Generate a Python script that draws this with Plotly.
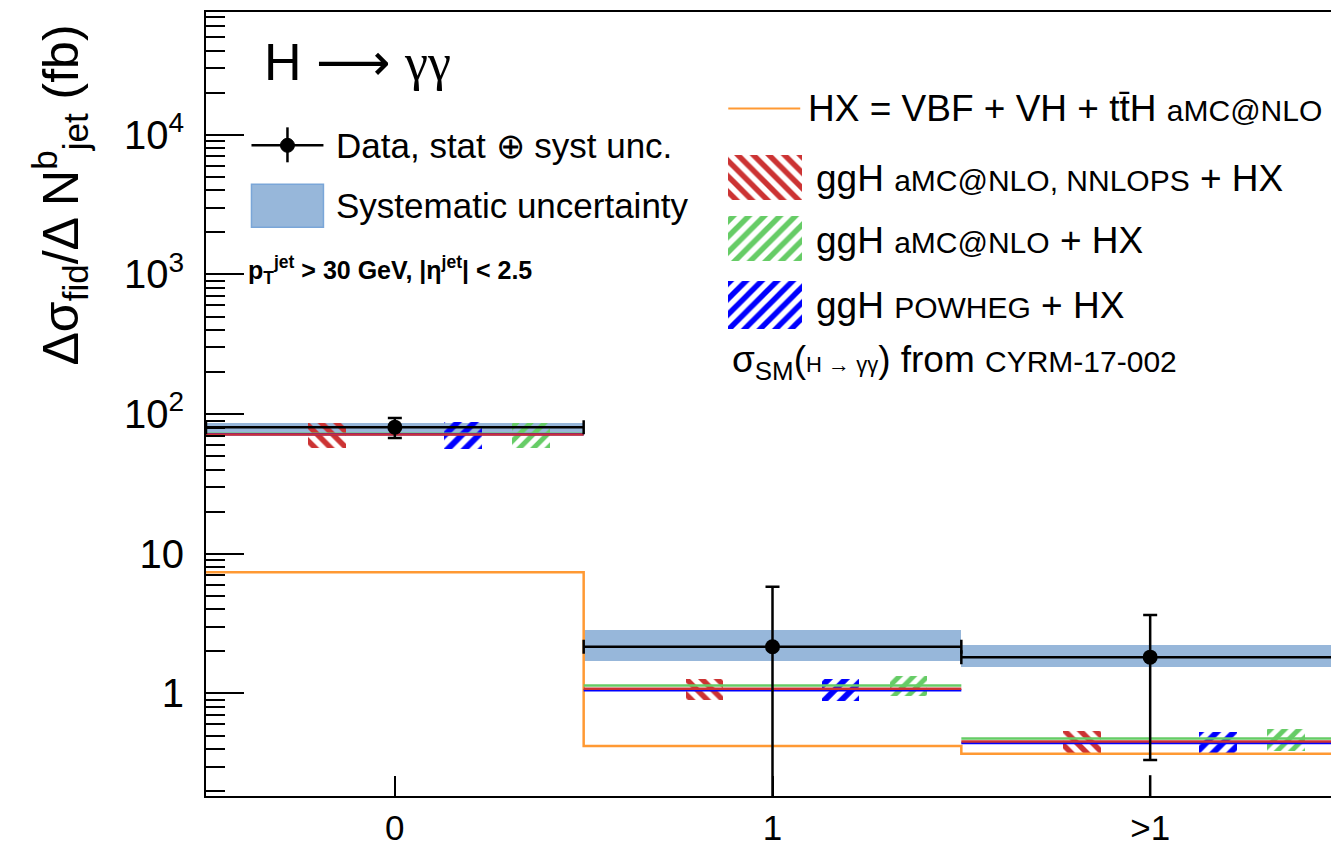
import plotly.graph_objects as go

# ---------------- data ----------------
bins = ["0", "1", ">1"]
bin_pos = [0, 1, 2]
bin_edges = [-0.5, 0.5, 1.5, 2.5]

data_y = [80.7, 2.16, 1.82]
data_err_up = [13.3, 3.65, 1.83]
data_err_down = [13.3, 2.15, 1.486]
extra_low_seg = [0.26, 0.1]          # stray lower segment in last bin

syst_hi = [87.1, 2.86, 2.23]
syst_lo = [73.2, 1.70, 1.54]

hx = [7.39, 0.42, 0.371]

nnlops = [71.6, 1.08, 0.454]
nnlops_lo = [57.0, 0.896, 0.373]
nnlops_hi = [86.3, 1.26, 0.538]

amcnlo = [72.5, 1.14, 0.477]
amcnlo_lo = [57.0, 0.957, 0.39]
amcnlo_hi = [86.0, 1.33, 0.56]

powheg = [71.8, 1.056, 0.442]
powheg_lo = [56.0, 0.885, 0.36]
powheg_hi = [87.7, 1.26, 0.53]

ytick_vals = [1, 10, 100, 1000, 10000]
ytick_text = ["1", "10", "10<sup>2</sup>", "10<sup>3</sup>", "10<sup>4</sup>"]

# ---------------- style ----------------
FONT = "Liberation Sans, Arial, sans-serif"
C_BAND = "#97b7da"
C_BAND_EDGE = "#7aa6d8"
C_ORANGE = "#ff9933"
C_RED = "#cc3333"
C_GREEN = "#66cc66"
C_BLUE = "#0000ff"

# page body margin of the browser (figure is drawn offset by this)
OFF = 8
W, H = 1339 - OFF, 847 - OFF
# plot area in window pixels
X0, X1, Y0, Y1 = 205.5, 1339, 11.5, 796.5
L, R, T, B = X0 - OFF, W - (X1 - OFF), Y0 - OFF, H - (Y1 - OFF)
PW = X1 - X0
PH = Y1 - Y0


def px(x):
    return (x - X0) / PW


def py(y):
    return 1 - (y - Y0) / PH


fig = go.Figure()

# systematic band
fig.add_trace(go.Bar(
    x=bin_pos, base=syst_lo, y=[h - l for h, l in zip(syst_hi, syst_lo)],
    width=1.0, opacity=1, marker=dict(color=C_BAND, opacity=1, line=dict(width=0)),
    hoverinfo="skip"))

# HX step histogram
hx_x = [bin_edges[0]]
hx_y = [hx[0]]
for i in range(len(hx)):
    hx_x += [bin_edges[i + 1]]
    hx_y += [hx[i]]
    if i + 1 < len(hx):
        hx_x += [bin_edges[i + 1]]
        hx_y += [hx[i + 1]]
fig.add_trace(go.Scatter(x=hx_x, y=hx_y, mode="lines",
                         line=dict(color=C_ORANGE, width=2.5), hoverinfo="skip"))


def segs(vals):
    xs, ys = [], []
    for i, v in enumerate(vals):
        xs += [bin_edges[i], bin_edges[i + 1], None]
        ys += [v, v, None]
    return xs, ys


def pattern(color, shape, size):
    return dict(color="rgba(0,0,0,0)", opacity=1, line=dict(width=0),
                pattern=dict(shape=shape, fgcolor=color, bgcolor="rgba(0,0,0,0)",
                             fgopacity=1, size=size, solidity=0.5, fillmode="overlay"))


# hatched theory boxes
def hatch(offset, lo, hi, color, shape, size):
    fig.add_trace(go.Bar(
        x=[p + offset for p in bin_pos], base=lo,
        y=[h - l for h, l in zip(hi, lo)], width=0.1, opacity=1,
        marker=pattern(color, shape, size), hoverinfo="skip"))


hatch(-0.18, nnlops_lo, nnlops_hi, C_RED, "\\", 11)
hatch(0.18, powheg_lo, powheg_hi, C_BLUE, "/", 12)
hatch(0.36, amcnlo_lo, amcnlo_hi, C_GREEN, "/", 10)

for vals, col in [(amcnlo, C_GREEN), (powheg, C_BLUE), (nnlops, C_RED)]:
    xs, ys = segs(vals)
    fig.add_trace(go.Scatter(x=xs, y=ys, mode="lines",
                             line=dict(color=col, width=2.5), hoverinfo="skip"))

# data
fig.add_trace(go.Scatter(
    x=bin_pos, y=data_y, mode="markers",
    marker=dict(color="black", size=15),
    error_y=dict(type="data", array=data_err_up, arrayminus=data_err_down,
                 color="black", thickness=2.5, width=7),
    error_x=dict(type="data", array=[0.5] * 3, color="black", thickness=2.5, width=7),
    hoverinfo="skip"))
fig.add_trace(go.Scatter(x=[bin_pos[2], bin_pos[2]], y=extra_low_seg, mode="lines",
                         line=dict(color="black", width=2.5), hoverinfo="skip"))

# legend hatched swatches on an overlay pixel axis (window pixel coordinates)
sw_x = [765, 765, 765]
sw_top = [155, 216, 281]
sw_h = [45, 45, 48]
sw_col = [C_RED, C_GREEN, C_BLUE]
sw_shape = ["\\", "/", "/"]
for xx, tt, hh, cc, ss in zip(sw_x, sw_top, sw_h, sw_col, sw_shape):
    fig.add_trace(go.Bar(
        x=[xx], base=[tt], y=[hh], width=74, xaxis="x2", yaxis="y2", opacity=1,
        marker=pattern(cc, ss, 11), hoverinfo="skip"))

shapes = []
# left legend: data symbol
shapes.append(dict(type="line", xref="paper", yref="paper",
                   x0=px(251), x1=px(323), y0=py(145), y1=py(145),
                   line=dict(color="black", width=2.5)))
shapes.append(dict(type="line", xref="paper", yref="paper",
                   x0=px(287), x1=px(287), y0=py(127), y1=py(162),
                   line=dict(color="black", width=2.5)))
shapes.append(dict(type="circle", xref="paper", yref="paper",
                   x0=px(280), x1=px(294), y0=py(138), y1=py(152),
                   fillcolor="black", line=dict(color="black", width=1)))
shapes.append(dict(type="rect", xref="paper", yref="paper",
                   x0=px(251), x1=px(323), y0=py(184), y1=py(227),
                   fillcolor=C_BAND, line=dict(color=C_BAND_EDGE, width=1.5)))
# right legend: HX line
shapes.append(dict(type="line", xref="paper", yref="paper",
                   x0=px(728), x1=px(800), y0=py(108), y1=py(108),
                   line=dict(color=C_ORANGE, width=2)))
fig.update_layout(shapes=shapes)

ann = []


def text(x, y, s, size, xanchor="left", yanchor="middle"):
    ann.append(dict(xref="paper", yref="paper", x=px(x), y=py(y), text=s,
                    showarrow=False, xanchor=xanchor, yanchor=yanchor,
                    font=dict(family=FONT, size=size, color="black")))


ARROW = "<span style='font-family:DejaVu Sans'>⟶</span>"
GG = "<span style='font-family:Liberation Serif'>γγ</span>"
text(262, 62, "H " + ARROW + " " + GG, 52)
text(334, 145, "Data, stat ⊕ syst unc.", 35)
text(334, 205, "Systematic uncertainty", 35)
text(246, 270, "<b>p<sub>T</sub><sup>jet</sup> > 30 GeV, |η<sup>jet</sup>| < 2.5</b>", 25)
text(806, 108, "HX = VBF + VH + tt̄H <span style='font-size:30px'>aMC@NLO</span>", 37)
text(814, 178, "ggH <span style='font-size:30px'>aMC@NLO, NNLOPS</span> + HX", 37)
text(814, 240, "ggH <span style='font-size:30px'>aMC@NLO</span> + HX", 37)
text(814, 305, "ggH <span style='font-size:30px'>POWHEG</span> + HX", 37)
text(730, 362, "σ<sub>SM</sub>(<span style='font-size:22px'>H → γγ</span>) from "
     "<span style='font-size:30px'>CYRM-17-002</span>", 37)
# y-axis title
ann.append(dict(xref="paper", yref="paper", x=px(60), y=py(22),
                text="Δσ<sub>fid</sub>/Δ N<sup>b</sup><sub>jet</sub> (fb)",
                showarrow=False, textangle=-90, xanchor="center", yanchor="top",
                font=dict(family=FONT, size=50, color="black")))
fig.update_layout(annotations=ann)

fig.update_layout(
    width=W, height=H,
    margin=dict(l=L, r=R, t=T, b=B, pad=0, autoexpand=False),
    paper_bgcolor="white", plot_bgcolor="white",
    showlegend=False, barmode="overlay", bargap=0,
    font=dict(family=FONT, color="black"),
    xaxis=dict(range=[bin_edges[0], bin_edges[-1]], tickvals=bin_pos, ticktext=bins,
               ticks="inside", ticklen=20, tickwidth=2, tickcolor="black",
               showline=True, linewidth=2, linecolor="black", mirror=True,
               showgrid=False, zeroline=False, ticklabelstandoff=0, automargin=False,
               tickfont=dict(family=FONT, size=35, color="black")),
    yaxis=dict(type="log", range=[-0.734, 4.879], tickvals=ytick_vals, ticktext=ytick_text,
               ticks="inside", ticklen=38, tickwidth=2, tickcolor="black",
               minor=dict(ticks="inside", ticklen=19, tickwidth=2, tickcolor="black",
                          dtick="D1", showgrid=False),
               showline=True, linewidth=2, linecolor="black", mirror=True,
               showgrid=False, zeroline=False, ticklabelstandoff=12, automargin=False,
               tickfont=dict(family=FONT, size=40, color="black")),
    xaxis2=dict(overlaying="x", range=[X0, X1], visible=False, anchor="y2", automargin=False),
    yaxis2=dict(overlaying="y", range=[Y1, Y0], visible=False, anchor="x2", automargin=False),
)

fig.write_html("out.html")
